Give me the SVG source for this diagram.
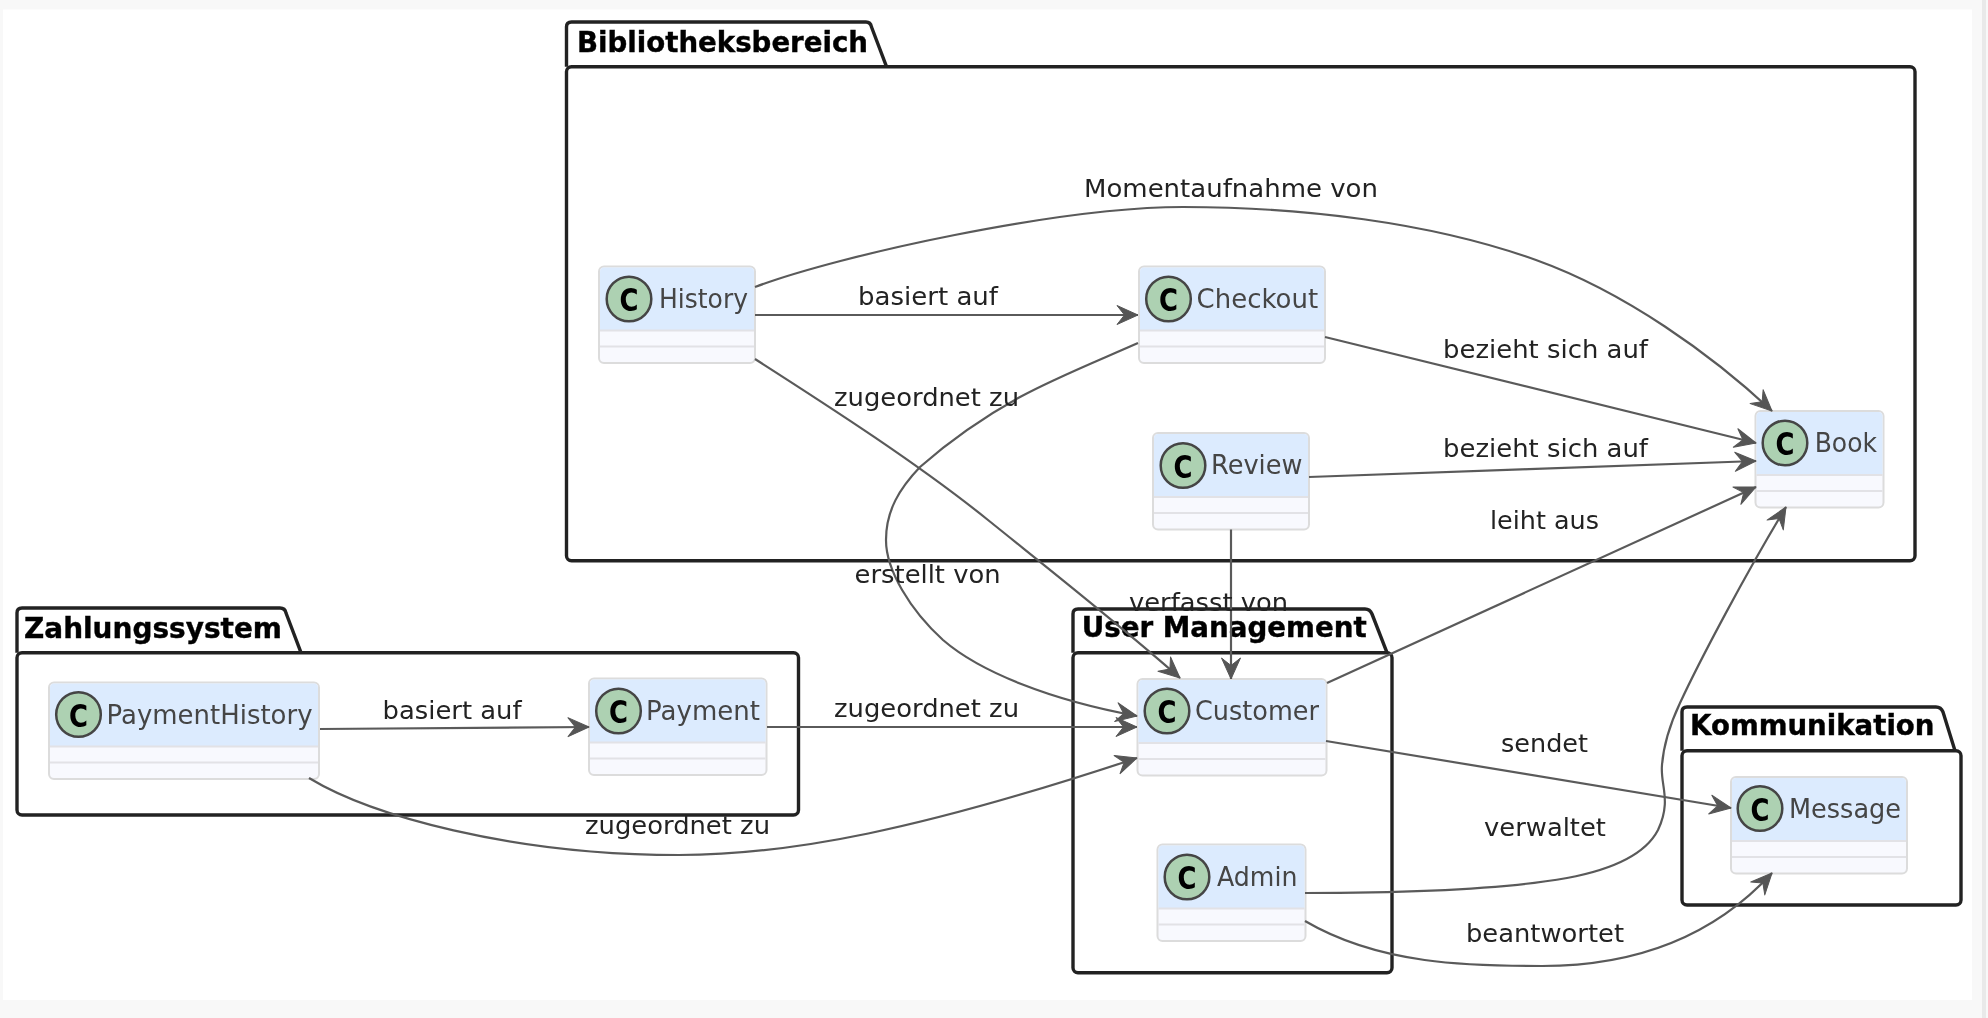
<svg xmlns="http://www.w3.org/2000/svg" width="1988" height="1018" viewBox="0 0 1988 1018">
<style>
.pkg{fill:none;stroke:#222;stroke-width:3.4;stroke-linejoin:round}
.pt{font:bold 28px "DejaVu Sans",sans-serif;fill:#000;stroke:#000;stroke-width:.4}
.box{fill:#F8F9FE;stroke:#dcdcdc;stroke-width:2}
.head{fill:#DCEBFE}
.div{stroke:#e2e2e6;stroke-width:2}
.ci{fill:#ADD1B2;stroke:#444;stroke-width:2.5}
.cg{font:bold 32px "DejaVu Sans",sans-serif;fill:#000}
.cn{font:27px "DejaVu Sans",sans-serif;fill:#444}
.lb{font:25px "DejaVu Sans",sans-serif;fill:#222}
.ed{fill:none;stroke:#5a5a5a;stroke-width:2.2;marker-end:url(#ah)}
</style>
<defs>
<marker id="ah" markerUnits="userSpaceOnUse" markerWidth="26" markerHeight="26" refX="23" refY="13" orient="auto">
<path d="M23 13 L2 3.5 L9.5 13 L2 22.5 Z" fill="#555" stroke="#555" stroke-width="1" stroke-linejoin="round"/>
</marker>
<filter id="soft" filterUnits="userSpaceOnUse" x="0" y="0" width="1988" height="1018"><feGaussianBlur stdDeviation="0.6"/></filter>
</defs>
<rect width="1988" height="1018" fill="#f8f8f8"/>
<rect x="1982" y="0" width="4" height="1018" fill="#e9e9e9"/>
<rect x="3" y="9.5" width="1969" height="990.5" fill="#fff"/>
<g filter="url(#soft)">
<g id="pkg-bibliotheksbereich">
<path class="pkg" d="M566.5 66.7 V27 Q566.5 22 571.5 22 H866 Q870.5 22 871.5 27 L886.5 66.7"/>
<rect class="pkg" x="566.5" y="66.7" width="1348.5" height="494" rx="5"/>
<text class="pt" x="577" y="51.7" textLength="291" lengthAdjust="spacingAndGlyphs">Bibliotheksbereich</text>
</g>
<g id="pkg-zahlungssystem">
<path class="pkg" d="M17 652.7 V613 Q17 608 22 608 H280 Q285 608 286 613 L301 652.7"/>
<rect class="pkg" x="17" y="652.7" width="781.5" height="162.3" rx="5"/>
<text class="pt" x="24" y="637.7" textLength="258" lengthAdjust="spacingAndGlyphs">Zahlungssystem</text>
</g>
<g id="pkg-user-management">
<path class="pkg" d="M1073 652.7 V614 Q1073 609 1078 609 H1365 Q1370 609 1372 614 L1387 652.7"/>
<rect class="pkg" x="1073" y="652.7" width="319" height="320" rx="5"/>
<text class="pt" x="1081.7" y="636.7" textLength="285" lengthAdjust="spacingAndGlyphs">User Management</text>
</g>
<g id="pkg-kommunikation">
<path class="pkg" d="M1682 750.7 V712 Q1682 707 1687 707 H1936 Q1941 707 1943 712 L1955 750.7"/>
<rect class="pkg" x="1682" y="750.7" width="279" height="154.3" rx="5"/>
<text class="pt" x="1690" y="735" textLength="244.5" lengthAdjust="spacingAndGlyphs">Kommunikation</text>
</g>

<g id="node-history">
<rect class="box" x="599" y="266.5" width="156" height="96.5" rx="5"/>
<path class="head" d="M600 330 V272 Q600 267.5 604 267.5 H750 Q754 267.5 754 272 V330 Z"/>
<path class="div" d="M600 330.5 H754 M600 346.5 H754"/>
<circle class="ci" cx="629" cy="299" r="22.3"/>
<text class="cg" x="619.5" y="311" textLength="19" lengthAdjust="spacingAndGlyphs">C</text>
<text class="cn" x="659" y="308" textLength="89" lengthAdjust="spacingAndGlyphs">History</text>
</g>
<g id="node-checkout">
<rect class="box" x="1139" y="266.5" width="186" height="96.5" rx="5"/>
<path class="head" d="M1140 330 V272 Q1140 267.5 1144 267.5 H1320 Q1324 267.5 1324 272 V330 Z"/>
<path class="div" d="M1140 330.5 H1324 M1140 346.5 H1324"/>
<circle class="ci" cx="1168.5" cy="299" r="22.3"/>
<text class="cg" x="1159" y="311" textLength="19" lengthAdjust="spacingAndGlyphs">C</text>
<text class="cn" x="1196.6" y="308" textLength="121.5" lengthAdjust="spacingAndGlyphs">Checkout</text>
</g>
<g id="node-book">
<rect class="box" x="1755.5" y="411" width="128" height="96.5" rx="5"/>
<path class="head" d="M1756.5 474.5 V416.5 Q1756.5 412 1760.5 412 H1878.5 Q1882.5 412 1882.5 416.5 V474.5 Z"/>
<path class="div" d="M1756.5 475 H1882.5 M1756.5 491 H1882.5"/>
<circle class="ci" cx="1785" cy="443" r="22.3"/>
<text class="cg" x="1775.5" y="455" textLength="19" lengthAdjust="spacingAndGlyphs">C</text>
<text class="cn" x="1814.7" y="452" textLength="62.3" lengthAdjust="spacingAndGlyphs">Book</text>
</g>
<g id="node-review">
<rect class="box" x="1153" y="433" width="156" height="96.5" rx="5"/>
<path class="head" d="M1154 496.5 V438.5 Q1154 434 1158 434 H1304 Q1308 434 1308 438.5 V496.5 Z"/>
<path class="div" d="M1154 497 H1308 M1154 513 H1308"/>
<circle class="ci" cx="1183" cy="465.5" r="22.3"/>
<text class="cg" x="1173.5" y="477.5" textLength="19" lengthAdjust="spacingAndGlyphs">C</text>
<text class="cn" x="1211" y="474" textLength="91.5" lengthAdjust="spacingAndGlyphs">Review</text>
</g>
<g id="node-customer">
<rect class="box" x="1137.5" y="679" width="189" height="96.5" rx="5"/>
<path class="head" d="M1138.5 742.5 V684.5 Q1138.5 680 1142.5 680 H1321.5 Q1325.5 680 1325.5 684.5 V742.5 Z"/>
<path class="div" d="M1138.5 743 H1325.5 M1138.5 759 H1325.5"/>
<circle class="ci" cx="1167" cy="711" r="22.3"/>
<text class="cg" x="1157.5" y="723" textLength="19" lengthAdjust="spacingAndGlyphs">C</text>
<text class="cn" x="1195" y="720" textLength="124" lengthAdjust="spacingAndGlyphs">Customer</text>
</g>
<g id="node-admin">
<rect class="box" x="1157.5" y="844.5" width="148" height="96.5" rx="5"/>
<path class="head" d="M1158.5 908 V850 Q1158.5 845.5 1162.5 845.5 H1300.5 Q1304.5 845.5 1304.5 850 V908 Z"/>
<path class="div" d="M1158.5 908.5 H1304.5 M1158.5 924.5 H1304.5"/>
<circle class="ci" cx="1187" cy="877" r="22.3"/>
<text class="cg" x="1177.5" y="889" textLength="19" lengthAdjust="spacingAndGlyphs">C</text>
<text class="cn" x="1217" y="886" textLength="80.4" lengthAdjust="spacingAndGlyphs">Admin</text>
</g>
<g id="node-message">
<rect class="box" x="1731" y="777" width="176" height="96.5" rx="5"/>
<path class="head" d="M1732 840.5 V782.5 Q1732 778 1736 778 H1902 Q1906 778 1906 782.5 V840.5 Z"/>
<path class="div" d="M1732 841 H1906 M1732 857 H1906"/>
<circle class="ci" cx="1760" cy="808.5" r="22.3"/>
<text class="cg" x="1750.5" y="820.5" textLength="19" lengthAdjust="spacingAndGlyphs">C</text>
<text class="cn" x="1789" y="818" textLength="112" lengthAdjust="spacingAndGlyphs">Message</text>
</g>
<g id="node-paymenthistory">
<rect class="box" x="49" y="682.5" width="270" height="96.5" rx="5"/>
<path class="head" d="M50 746 V688 Q50 683.5 54 683.5 H314 Q318 683.5 318 688 V746 Z"/>
<path class="div" d="M50 746.5 H318 M50 762.5 H318"/>
<circle class="ci" cx="78.5" cy="714.5" r="22.3"/>
<text class="cg" x="69" y="726.5" textLength="19" lengthAdjust="spacingAndGlyphs">C</text>
<text class="cn" x="106.5" y="723.5" textLength="206" lengthAdjust="spacingAndGlyphs">PaymentHistory</text>
</g>
<g id="node-payment">
<rect class="box" x="589" y="678.5" width="177.5" height="96.5" rx="5"/>
<path class="head" d="M590 742 V684 Q590 679.5 594 679.5 H761.5 Q765.5 679.5 765.5 684 V742 Z"/>
<path class="div" d="M590 742.5 H765.5 M590 758.5 H765.5"/>
<circle class="ci" cx="618.5" cy="711" r="22.3"/>
<text class="cg" x="609" y="723" textLength="19" lengthAdjust="spacingAndGlyphs">C</text>
<text class="cn" x="646" y="719.5" textLength="114" lengthAdjust="spacingAndGlyphs">Payment</text>
</g>

<g id="connectors">
<path class="ed" d="M755 287 C840 255 1060 207 1183 207 C1300 207 1430 222 1536 260 C1625 292 1712 355 1772 411"/>
<path class="ed" d="M755 315 H1138"/>
<path class="ed" d="M755 359 C830 407 920 465 988 520 C1050 570 1120 625 1180 678"/>
<path class="ed" d="M1138 343 C1095 362 1055 378 1020 397 C975 422 945 445 920 467 C900 488 886 510 886 540 C886 570 910 610 943 640 C980 672 1050 700 1137 716"/>
<path class="ed" d="M1325 337 L1756 443"/>
<path class="ed" d="M1309 477 L1756 461"/>
<path class="ed" d="M1231 529.5 V679"/>
<path class="ed" d="M1327 683 L1756 487"/>
<path class="ed" d="M1305 893 C1400 893 1500 890 1567 878 C1610 870 1645 855 1658 830 C1672 800 1660 785 1662 765 C1664 740 1672 720 1680 703 C1700 660 1745 575 1786 507"/>
<path class="ed" d="M1326 741 L1731 808"/>
<path class="ed" d="M1305 921 C1380 965 1470 966 1542 966 C1640 966 1715 935 1772 873"/>
<path class="ed" d="M320 729 L589 727"/>
<path class="ed" d="M767 727 H1137"/>
<path class="ed" d="M309 778 C370 815 510 855 679 855 C790 855 920 830 1137 758"/>
</g>

<g id="labels">
<text class="lb" x="1084" y="197" textLength="294" lengthAdjust="spacingAndGlyphs">Momentaufnahme von</text>
<text class="lb" x="858" y="305" textLength="140" lengthAdjust="spacingAndGlyphs">basiert auf</text>
<text class="lb" x="834" y="406" textLength="185" lengthAdjust="spacingAndGlyphs">zugeordnet zu</text>
<text class="lb" x="1443" y="358" textLength="205" lengthAdjust="spacingAndGlyphs">bezieht sich auf</text>
<text class="lb" x="1443" y="457" textLength="205" lengthAdjust="spacingAndGlyphs">bezieht sich auf</text>
<text class="lb" x="1490" y="529" textLength="109" lengthAdjust="spacingAndGlyphs">leiht aus</text>
<text class="lb" x="854.6" y="583" textLength="146" lengthAdjust="spacingAndGlyphs">erstellt von</text>
<text class="lb" x="1129" y="611" textLength="159" lengthAdjust="spacingAndGlyphs">verfasst von</text>
<text class="lb" x="834" y="717" textLength="185" lengthAdjust="spacingAndGlyphs">zugeordnet zu</text>
<text class="lb" x="382.6" y="719" textLength="139" lengthAdjust="spacingAndGlyphs">basiert auf</text>
<text class="lb" x="585" y="834" textLength="185" lengthAdjust="spacingAndGlyphs">zugeordnet zu</text>
<text class="lb" x="1501" y="752" textLength="87" lengthAdjust="spacingAndGlyphs">sendet</text>
<text class="lb" x="1484" y="836" textLength="122" lengthAdjust="spacingAndGlyphs">verwaltet</text>
<text class="lb" x="1466" y="942" textLength="158" lengthAdjust="spacingAndGlyphs">beantwortet</text>
</g>
</g>
</svg>
